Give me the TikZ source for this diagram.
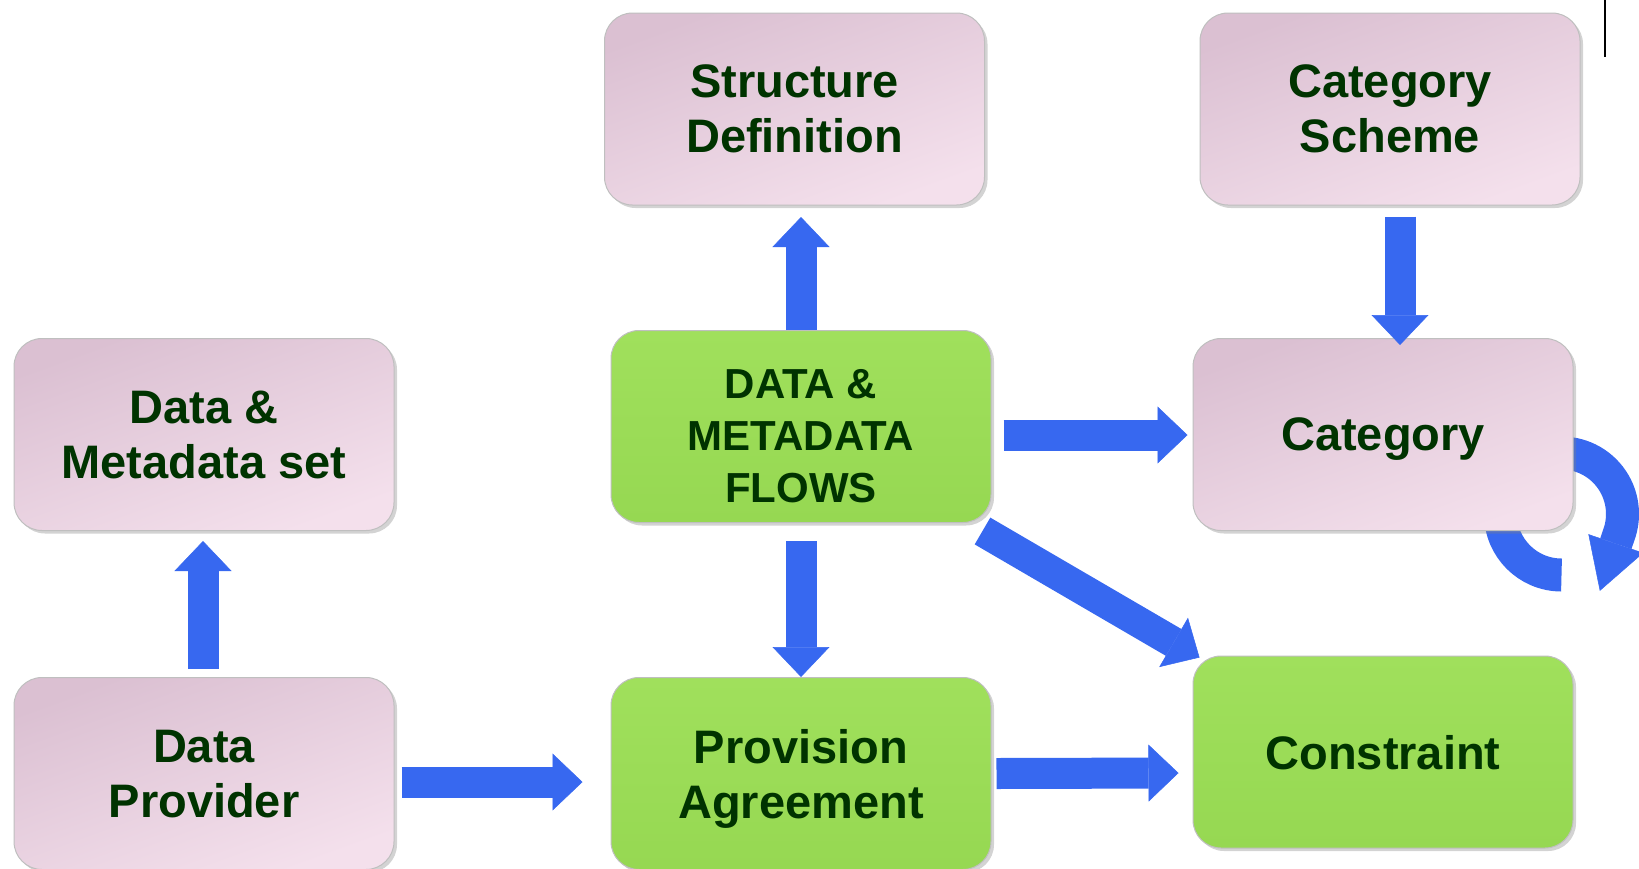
\documentclass[tikz,border=0pt]{standalone}
\usepackage{fontspec}
\setmainfont{Liberation Sans}
\usepackage{xcolor}
\usetikzlibrary{arrows.meta, positioning, calc, shadows, backgrounds}

\definecolor{boxtext}{RGB}{0,51,0}
\definecolor{pinktop}{RGB}{219,192,210}
\definecolor{pinkbot}{RGB}{244,224,236}
\definecolor{greentop}{RGB}{160,224,92}
\definecolor{greenbot}{RGB}{150,216,82}
\definecolor{flowblue}{RGB}{55,104,240}

\tikzset{
  box/.style={rounded corners=28pt, minimum width=380pt, minimum height=192pt,
    draw=black!25, line width=1pt, text=boxtext, align=center, text depth=0pt,
    font=\fontsize{47}{55}\selectfont\bfseries,
    drop shadow={shadow xshift=3pt, shadow yshift=-3pt, opacity=0.35}},
  pinkbox/.style={box, top color=pinktop, bottom color=pinkbot, shading angle=20},
  greenbox/.style={box, top color=greentop, bottom color=greenbot},
  flowarrow/.style={draw=flowblue, line width=31pt,
    -{Triangle[width=57pt, length=30pt, line width=0.5pt]}}
}

\begin{document}
\begin{tikzpicture}[x=1pt, y=-1pt]
        \useasboundingbox (0,0) rectangle (1639,868);

        % Boxes
        \node[pinkbox] (struct) at (794.5,109) {Structure\\Definition};
        \node[pinkbox] (scheme) at (1390,109) {Category\\Scheme};
        \node[pinkbox] (dmset) at (204,434.5) {Data \&\\Metadata set};
        \node[greenbox, font=\fontsize{42}{52}\selectfont\bfseries] (flows) at (801,426.5)
          {\rule{0pt}{48pt}DATA \&\\METADATA\\FLOWS};
        \node[pinkbox] (category) at (1383,434.5) {Category};
        \node[pinkbox] (provider) at (204,773.5) {Data\\Provider};
        \node[greenbox] (provision) at (801,773.5) {Provision\\Agreement};
        \node[greenbox] (constraint) at (1383,752) {Constraint};

        % Arrows
        \draw[flowarrow] (flows.north) -- ($(flows.north)+(0,-113)$);
        \draw[flowarrow] ($(scheme.south)+(10,11)$) -- ($(category.north)+(17,7)$);
        \draw[flowarrow] ($(flows.east)+(12,8.5)$) -- ($(category.west)+(-5,0.5)$);
        \draw[flowarrow] ($(flows.south east)+(-9,8)$) -- ($(constraint.north west)+(7,2)$);
        \draw[flowarrow] ($(flows.south)+(0,18)$) -- (provision.north);
        \draw[flowarrow] ($(provider.north)+(-1,-8)$) -- ($(dmset.south)+(-1,10)$);
        \draw[flowarrow] ($(provider.east)+(7,8.5)$) -- ($(provision.west)+(-28,8.5)$);
        \draw[flowarrow] ($(provision.east)+(5,0)$) -- ($(constraint.west)+(-14,21)$);
        \begin{scope}[on background layer]
          \draw[flowarrow, line width=33pt, -{Triangle[width=58pt, length=50pt, line width=0.5pt]}]
            ($(category.south east)+(-12,44)$)
            arc[start angle=-90, end angle=-380, radius=61pt] -- ++(-19,56);
        \end{scope}

        % Edge mark
        \draw[line width=2pt] (1605,0) -- (1605,57);
    \end{tikzpicture}
\end{document}
